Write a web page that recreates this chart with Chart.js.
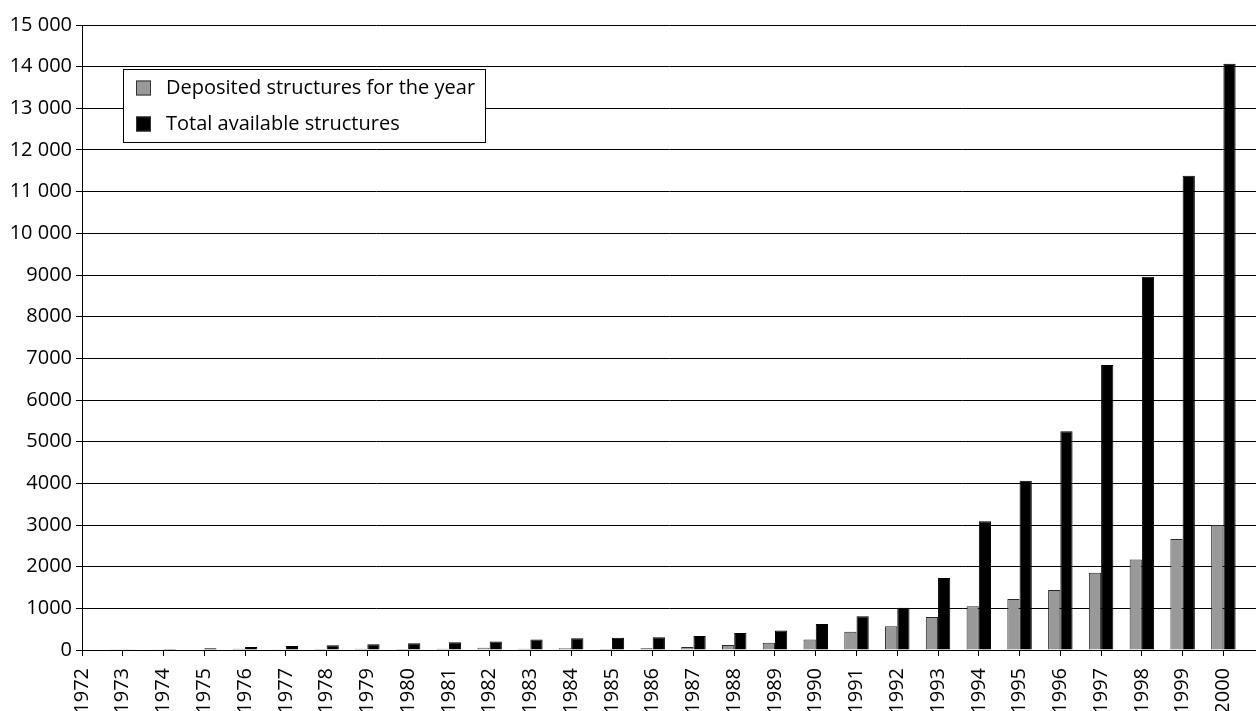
<!DOCTYPE html>
<html>
<head>
<meta charset="utf-8">
<script src="https://cdn.jsdelivr.net/npm/chart.js@4/dist/chart.umd.min.js"></script>
<style>
  html, body { margin: 0; padding: 0; background: #fff; }
  #wrap { position: relative; width: 1256px; height: 711px; }
</style>
</head>
<body>
<div id="wrap"><canvas id="c"></canvas></div>
<script>
// Protein structures per year
const years = [1972, 1973, 1974, 1975, 1976, 1977, 1978, 1979, 1980, 1981,
               1982, 1983, 1984, 1985, 1986, 1987, 1988, 1989, 1990, 1991,
               1992, 1993, 1994, 1995, 1996, 1997, 1998, 1999, 2000];
const deposited = [1, 9, 5, 15, 30, 20, 25, 30, 25, 30,
                   55, 30, 45, 25, 40, 70, 120, 175, 255, 440,
                   570, 790, 1050, 1225, 1440, 1855, 2175, 2665, 3000];
const totalAvailable = [10, 20, 25, 40, 70, 95, 115, 140, 160, 185,
                        205, 255, 280, 295, 305, 335, 410, 470, 625, 810,
                        1015, 1730, 3090, 4065, 5250, 6840, 8960, 11380, 14070];
const seriesNames = ['Deposited structures for the year', 'Total available structures'];
const yTicks = [0, 1000, 2000, 3000, 4000, 5000, 6000, 7000, 8000, 9000,
                10000, 11000, 12000, 13000, 14000, 15000];

const FONT = '"Open Sans", "DejaVu Sans", sans-serif';

function fmtThousands(v) {
  if (v < 10000) return String(v);
  const s = String(v);
  return s.slice(0, s.length - 3) + ' ' + s.slice(s.length - 3);
}

// Boxed legend drawn inside the plot area
const boxLegend = {
  id: 'boxLegend',
  afterDraw(chart) {
    const ctx = chart.ctx;
    const x = 123.5, y = 69.5, w = 362, h = 73;
    ctx.save();
    ctx.fillStyle = '#fff';
    ctx.fillRect(x, y, w, h);
    ctx.strokeStyle = '#000';
    ctx.lineWidth = 1;
    ctx.strokeRect(x, y, w, h);
    ctx.font = '20px ' + FONT;
    ctx.textBaseline = 'middle';
    chart.data.datasets.forEach((ds, i) => {
      const cy = 88 + i * 36;
      ctx.fillStyle = ds.backgroundColor;
      ctx.fillRect(136, cy - 7.5, 15, 15);
      ctx.strokeStyle = '#333';
      ctx.strokeRect(136.5, cy - 7, 14, 14);
      ctx.fillStyle = '#000';
      ctx.fillText(ds.label, 166, cy);
    });
    ctx.restore();
  }
};

new Chart(document.getElementById('c'), {
  type: 'bar',
  data: {
    datasets: [
      {
        label: seriesNames[0],
        data: years.map((yr, i) => ({ x: yr, y: deposited[i] })),
        backgroundColor: '#999999',
        borderColor: '#2a2a2a',
        borderWidth: 1
      },
      {
        label: seriesNames[1],
        data: years.map((yr, i) => ({ x: yr, y: totalAvailable[i] })),
        backgroundColor: '#000000',
        borderColor: '#000000',
        borderWidth: 1
      }
    ]
  },
  options: {
    responsive: true,
    maintainAspectRatio: false,
    animation: false,
    devicePixelRatio: 1,
    layout: { padding: { top: 25, right: 0, bottom: 0, left: 0 } },
    datasets: { bar: { categoryPercentage: 0.6, barPercentage: 1.0 } },
    plugins: { legend: { display: false }, tooltip: { enabled: false } },
    scales: {
      x: {
        type: 'linear',
        offset: false,
        min: years[0],
        max: years[years.length - 1] + 0.8,
        afterBuildTicks(scale) { scale.ticks = years.map(v => ({ value: v })); },
        afterFit(scale) {
          scale.height = 61;
          scale.paddingLeft = 0;
          scale.paddingRight = 0;
        },
        grid: { offset: false, drawOnChartArea: false, drawTicks: true, tickLength: 6, color: '#000', lineWidth: 1 },
        border: { display: true, color: '#000', width: 1 },
        ticks: {
          autoSkip: false,
          minRotation: 90,
          maxRotation: 90,
          padding: 12,
          color: '#000',
          font: { family: FONT, size: 20 },
          callback: v => String(v)
        }
      },
      y: {
        min: 0,
        max: 15000,
        afterBuildTicks(scale) { scale.ticks = yTicks.map(v => ({ value: v })); },
        afterFit(scale) { scale.width = 82; },
        grid: { color: '#000', lineWidth: 1, tickLength: 6 },
        border: { display: true, color: '#000', width: 1 },
        ticks: {
          padding: 4,
          color: '#000',
          font: { family: FONT, size: 20 },
          callback: v => fmtThousands(v)
        }
      }
    }
  },
  plugins: [boxLegend]
});
</script>
</body>
</html>
